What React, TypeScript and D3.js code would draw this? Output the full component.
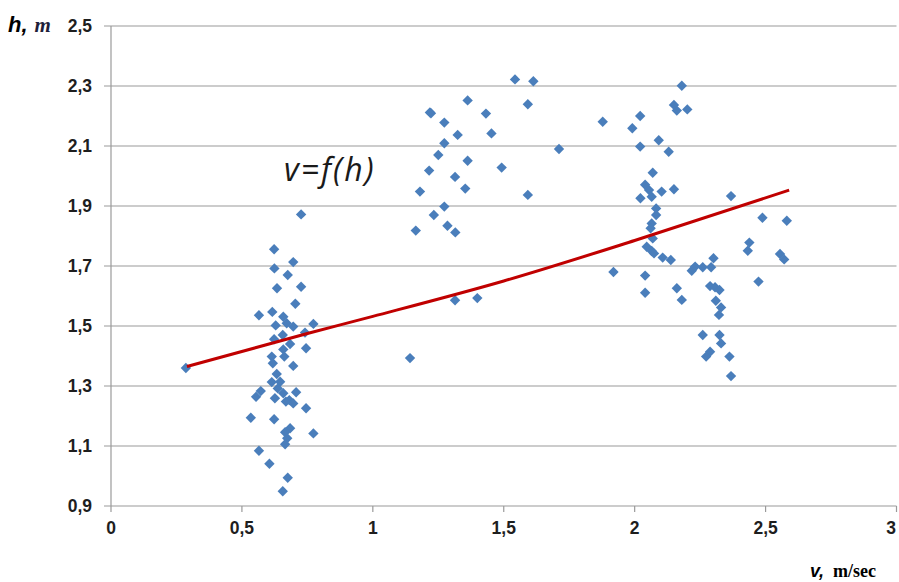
import React, { useEffect, useRef } from 'react'
import * as d3 from 'd3'

// measured points: speed v (m/sec), depth h (m)
const leftV = [0.286, 0.726, 0.623, 0.696, 0.624, 0.675, 0.634, 0.726, 0.704, 0.565, 0.616, 0.658, 0.629, 0.671, 0.696, 0.773, 0.741, 0.656, 0.623, 0.684, 0.745, 0.658, 0.614, 0.662, 0.618, 0.696, 0.633, 0.614, 0.646, 0.572, 0.554, 0.637, 0.658, 0.626, 0.707, 0.681, 0.668, 0.696, 0.745, 0.534, 0.623, 0.684, 0.665, 0.673, 0.665, 0.773, 0.565, 0.605, 0.675, 0.656]
const leftH = [1.36, 1.872, 1.756, 1.713, 1.692, 1.67, 1.626, 1.631, 1.574, 1.536, 1.547, 1.531, 1.502, 1.509, 1.498, 1.507, 1.478, 1.47, 1.456, 1.44, 1.426, 1.422, 1.398, 1.398, 1.376, 1.367, 1.34, 1.313, 1.314, 1.283, 1.264, 1.292, 1.276, 1.259, 1.279, 1.253, 1.248, 1.242, 1.226, 1.194, 1.189, 1.159, 1.146, 1.126, 1.106, 1.142, 1.084, 1.041, 0.994, 0.949]

const midV = [1.543, 1.613, 1.362, 1.218, 1.222, 1.592, 1.432, 1.273, 1.324, 1.453, 1.273, 1.711, 1.25, 1.362, 1.215, 1.492, 1.314, 1.353, 1.18, 1.592, 1.273, 1.233, 1.285, 1.164, 1.315, 1.314, 1.399, 1.142]
const midH = [2.322, 2.316, 2.252, 2.212, 2.209, 2.239, 2.208, 2.178, 2.137, 2.142, 2.109, 2.09, 2.07, 2.051, 2.018, 2.028, 1.997, 1.958, 1.948, 1.937, 1.898, 1.87, 1.834, 1.818, 1.812, 1.586, 1.593, 1.393]

const rightV = [2.18, 2.15, 2.161, 2.201, 1.878, 2.021, 1.991, 2.021, 2.092, 2.13, 2.069, 2.04, 2.055, 2.103, 2.15, 2.022, 2.065, 2.368, 2.082, 2.082, 2.065, 2.061, 2.069, 2.046, 2.065, 2.074, 2.107, 2.138, 2.488, 2.581, 2.438, 2.432, 2.555, 2.571, 1.919, 2.04, 2.04, 2.161, 2.18, 2.218, 2.231, 2.26, 2.292, 2.301, 2.473, 2.288, 2.307, 2.324, 2.31, 2.33, 2.322, 2.26, 2.324, 2.33, 2.288, 2.273, 2.362, 2.368]
const rightH = [2.301, 2.237, 2.218, 2.222, 2.181, 2.2, 2.159, 2.098, 2.119, 2.081, 2.011, 1.971, 1.953, 1.948, 1.956, 1.926, 1.931, 1.933, 1.892, 1.87, 1.842, 1.826, 1.792, 1.764, 1.75, 1.742, 1.728, 1.72, 1.861, 1.851, 1.778, 1.751, 1.74, 1.722, 1.68, 1.668, 1.611, 1.626, 1.587, 1.684, 1.698, 1.696, 1.696, 1.726, 1.648, 1.633, 1.629, 1.62, 1.584, 1.562, 1.537, 1.47, 1.47, 1.442, 1.414, 1.398, 1.398, 1.333]

// trend line v=f(h)
const trendV = [0.29, 0.75, 1.0, 1.5, 2.0, 2.59]
const trendH = [1.365, 1.475, 1.532, 1.65, 1.785, 1.953]

const xTicks = [0, 0.5, 1, 1.5, 2, 2.5, 3]
const yTicks = [0.9, 1.1, 1.3, 1.5, 1.7, 1.9, 2.1, 2.3, 2.5]

const fmt = (d: number) => String(d).replace('.', ',')

export default function App() {
  const svgRef = useRef<SVGSVGElement>(null)

  useEffect(() => {
    if (!svgRef.current) return
    const width = 899
    const height = 582
    const left = 111
    const right = 896.5
    const top = 26
    const bottom = 506

    const x = d3.scaleLinear().domain([0, 3]).range([left, right])
    const y = d3.scaleLinear().domain([0.9, 2.5]).range([bottom, top])

    const svg = d3.select(svgRef.current)
    svg.selectAll('*').remove()
    svg.attr('width', width).attr('height', height)

    const grid = '#9a9a9a'

    // horizontal grid + y ticks
    svg.append('g')
      .selectAll('line')
      .data(yTicks)
      .join('line')
      .attr('x1', left - 7)
      .attr('x2', right)
      .attr('y1', (d) => y(d))
      .attr('y2', (d) => y(d))
      .attr('stroke', grid)
      .attr('stroke-width', 1.2)

    // y axis line
    svg.append('line')
      .attr('x1', left).attr('x2', left)
      .attr('y1', top).attr('y2', bottom)
      .attr('stroke', grid).attr('stroke-width', 1.2)

    // x ticks
    svg.append('g')
      .selectAll('line')
      .data(xTicks)
      .join('line')
      .attr('x1', (d) => x(d))
      .attr('x2', (d) => x(d))
      .attr('y1', bottom)
      .attr('y2', bottom + 6)
      .attr('stroke', grid)
      .attr('stroke-width', 1.2)

    const labelFont = '"Liberation Sans", Arial, sans-serif'

    svg.append('g')
      .selectAll('text')
      .data(yTicks)
      .join('text')
      .attr('x', left - 19)
      .attr('y', (d) => y(d))
      .attr('dy', '0.36em')
      .attr('text-anchor', 'end')
      .attr('font-family', labelFont)
      .attr('font-weight', 'bold')
      .attr('font-size', 17.5)
      .attr('fill', '#1e1e1e')
      .text((d) => fmt(d))

    svg.append('g')
      .selectAll('text')
      .data(xTicks)
      .join('text')
      .attr('x', (d) => Math.min(x(d), 891))
      .attr('y', bottom + 28)
      .attr('text-anchor', 'middle')
      .attr('font-family', labelFont)
      .attr('font-weight', 'bold')
      .attr('font-size', 17.5)
      .attr('fill', '#1e1e1e')
      .text((d) => fmt(d))

    // points
    const pts: [number, number][] = [
      ...leftV.map((v, i) => [v, leftH[i]] as [number, number]),
      ...midV.map((v, i) => [v, midH[i]] as [number, number]),
      ...rightV.map((v, i) => [v, rightH[i]] as [number, number]),
    ]
    const diamond = d3.symbol().type(d3.symbolSquare).size(54)
    svg.append('g')
      .selectAll('path')
      .data(pts)
      .join('path')
      .attr('d', diamond() as string)
      .attr('transform', (d) => `translate(${x(d[0])},${y(d[1])}) rotate(45)`)
      .attr('fill', '#4a7ebb')

    // trend line
    const line = d3.line<number>()
      .x((_, i) => x(trendV[i]))
      .y((d) => y(d))
      .curve(d3.curveMonotoneX)
    svg.append('path')
      .attr('d', line(trendH))
      .attr('fill', 'none')
      .attr('stroke', '#c00000')
      .attr('stroke-width', 3)

    // annotation
    svg.append('text')
      .attr('x', 284)
      .attr('y', 181)
      .attr('font-family', '"Open Sans", sans-serif')
      .attr('font-style', 'italic')
      .attr('font-size', 32)
      .attr('letter-spacing', 2)
      .attr('fill', '#1a1a1a')
      .text('v=f(h)')

    // axis titles
    const yt = svg.append('text').attr('x', 8).attr('y', 32)
    yt.append('tspan')
      .attr('font-family', labelFont)
      .attr('font-weight', 'bold')
      .attr('font-style', 'italic')
      .attr('font-size', 22)
      .attr('fill', '#000')
      .text('h,')
    yt.append('tspan')
      .attr('dx', 7)
      .attr('font-family', '"Liberation Serif", serif')
      .attr('font-weight', 'bold')
      .attr('font-style', 'italic')
      .attr('font-size', 21)
      .attr('fill', '#1f1f3a')
      .text('m')

    const xt = svg.append('text').attr('x', 810).attr('y', 577)
    xt.append('tspan')
      .attr('font-family', labelFont)
      .attr('font-weight', 'bold')
      .attr('font-style', 'italic')
      .attr('font-size', 18)
      .attr('fill', '#000')
      .text('v,')
    xt.append('tspan')
      .attr('dx', 9)
      .attr('font-family', '"Liberation Serif", serif')
      .attr('font-weight', 'bold')
      .attr('font-size', 18)
      .attr('fill', '#000')
      .text('m/sec')
  }, [])

  return (
    <svg
      ref={svgRef}
      style={{ position: 'absolute', left: 0, top: 0, background: '#fff' }}
    ></svg>
  )
}
